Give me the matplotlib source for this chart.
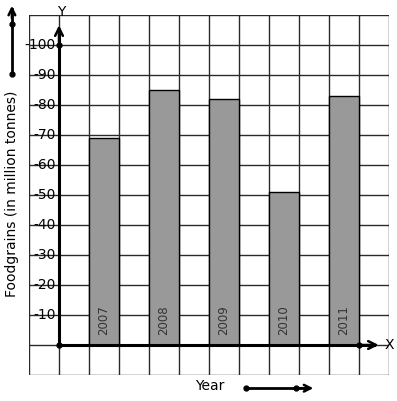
import matplotlib
matplotlib.use("Agg")
import matplotlib.pyplot as plt

years = ["2007", "2008", "2009", "2010", "2011"]
foodgrains = [69, 85, 82, 51, 83]
bar_pos = [1.5, 3.5, 5.5, 7.5, 9.5]
y_ticks = [10, 20, 30, 40, 50, 60, 70, 80, 90, 100]

fig = plt.figure(figsize=(3.97, 4.01), dpi=100)
ax = fig.add_axes([29 / 397, 26 / 401, 360 / 397, 360 / 401])
ax.set_xlim(-1, 11)
ax.set_ylim(-10, 110)

# square grid
for gx in range(-1, 12):
    ax.axvline(gx, color="#2a2a2a", lw=1.0, zorder=1)
for gy in range(-10, 111, 10):
    ax.axhline(gy, color="#2a2a2a", lw=1.0, zorder=1)
ax.set_xticks([]); ax.set_yticks([])
for s in ax.spines.values():
    s.set_visible(False)

ax.bar(bar_pos, foodgrains, width=1, color="#999999", edgecolor="black",
       lw=1.0, zorder=2)
for x, yr in zip(bar_pos, years):
    ax.text(x, 8.3, yr, rotation=90, ha="center", va="center", fontsize=8.5,
            color="#333333", zorder=3)

# axes with arrows
kw = dict(clip_on=False, zorder=4)
ax.plot([0, 0], [0, 105], color="black", lw=2.2, **kw)
ax.plot([0, 10.5], [0, 0], color="black", lw=2.2, **kw)
ax.annotate("", xy=(0, 107.5), xytext=(0, 100),
            arrowprops=dict(arrowstyle="->", lw=1.8, color="black", mutation_scale=14),
            annotation_clip=False)
ax.annotate("", xy=(10.75, 0), xytext=(10, 0),
            arrowprops=dict(arrowstyle="->", lw=1.8, color="black", mutation_scale=14),
            annotation_clip=False)
ax.plot([0, 0, 10], [0, 100, 0], "o", color="black", ms=3.5, **kw)
ax.text(0.07, 111, "Y", ha="center", va="center", fontsize=10, **kw)
ax.text(11.0, 0, "X", ha="center", va="center", fontsize=10, **kw)

for v in y_ticks:
    ax.text(-0.12, v, f"-{v}", ha="right", va="center", fontsize=10, **kw)

# left indicator arrow + label
ax.plot([-1.57, -1.57], [90.3, 112], color="black", lw=2.0, **kw)
ax.annotate("", xy=(-1.57, 114), xytext=(-1.57, 108),
            arrowprops=dict(arrowstyle="->", lw=1.8, color="black", mutation_scale=12),
            annotation_clip=False)
ax.plot([-1.57, -1.57], [90.3, 107], "o", color="black", ms=3.5, **kw)
ax.text(-1.57, 50.5, "Foodgrains (in million tonnes)", rotation=90, ha="center",
        va="center", fontsize=10, **kw)

# bottom indicator arrow + label
ax.text(5.03, -13.7, "Year", ha="center", va="center", fontsize=10, **kw)
ax.plot([6.23, 8.3], [-14.4, -14.4], color="black", lw=2.0, **kw)
ax.annotate("", xy=(8.57, -14.4), xytext=(7.9, -14.4),
            arrowprops=dict(arrowstyle="->", lw=1.8, color="black", mutation_scale=12),
            annotation_clip=False)
ax.plot([6.23, 7.9], [-14.4, -14.4], "o", color="black", ms=3.5, **kw)

fig.savefig("out.png", dpi=100)
